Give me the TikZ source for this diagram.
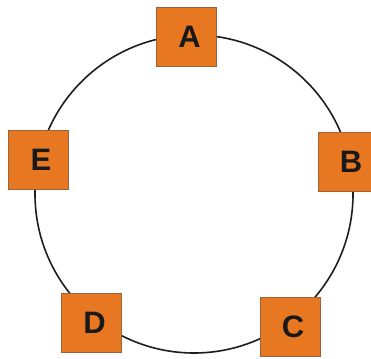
\documentclass[tikz,border=0pt]{standalone}
\usepackage{fontspec}
\setmainfont{Liberation Sans}
\definecolor{boxfill}{RGB}{232,119,34}
\definecolor{boxline}{RGB}{150,100,60}
\definecolor{ringline}{RGB}{30,30,30}
\newcommand{\shiftedletter}[1]{\hspace*{6pt}#1}
\begin{document}
\begin{tikzpicture}[x=1pt,y=-1pt,
  letterbox/.style={draw=boxline, line width=0.8pt, fill=boxfill, minimum width=60pt, minimum height=59pt, inner sep=0pt, font=\fontsize{31}{31}\selectfont\bfseries, text=black!90}]
\useasboundingbox[fill=white] (0,0) rectangle (371,358);
\node[draw=ringline, line width=1.6pt, circle, minimum size=318pt, inner sep=0pt] (ring) at (194,194) {};
\node[letterbox] (A) at (186.5,36.5) {\shiftedletter{A}};
\node[letterbox] (B) at (348,162) {\shiftedletter{B}};
\node[letterbox] (C) at (290,327) {\shiftedletter{C}};
\node[letterbox] (D) at (91.5,323) {\shiftedletter{D}};
\node[letterbox] (E) at (38,159.5) {\shiftedletter{E}};
\end{tikzpicture}
\end{document}
